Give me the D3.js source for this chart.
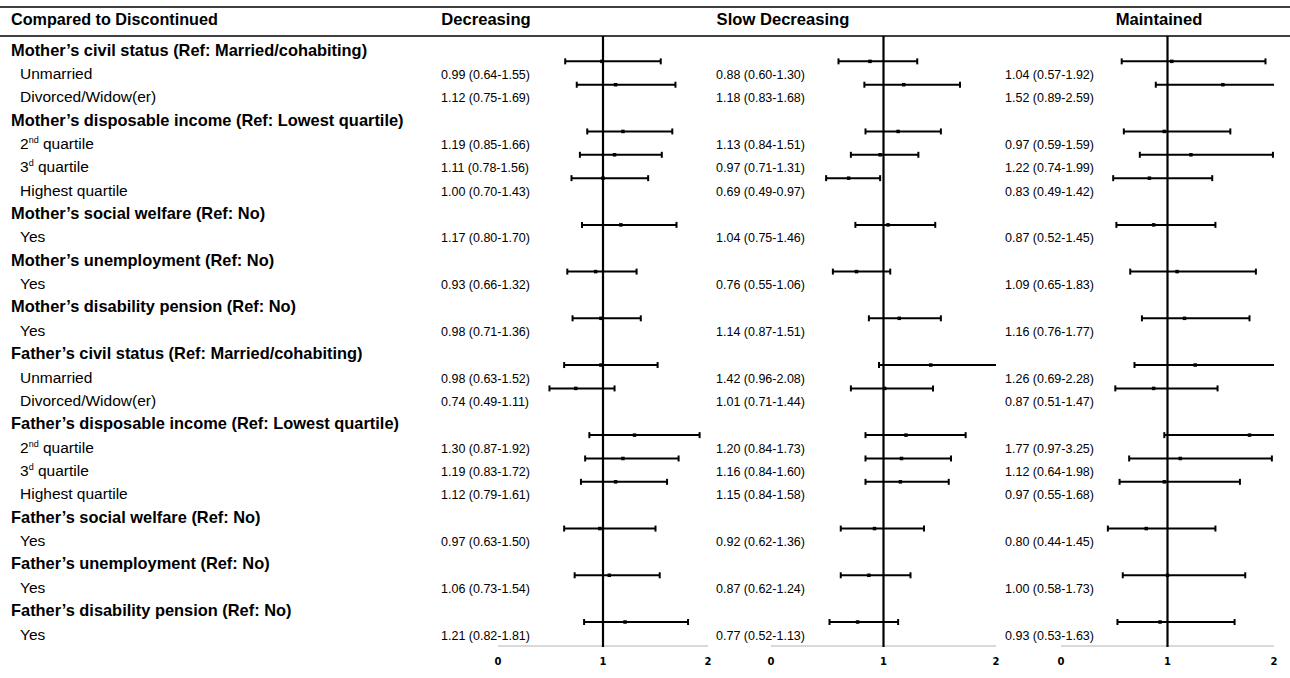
<!DOCTYPE html>
<html>
<head>
<meta charset="utf-8">
<script src="https://cdn.jsdelivr.net/npm/d3@7"></script>
<style>
  body { margin: 0; background: #fff; }
  svg { display: block; }
</style>
</head>
<body>
<svg width="1290" height="678"></svg>
<script>
// rows of the table: "h" = group heading, "i" = item that carries an estimate
const rowKinds = ["h","i","i","h","i","i","i","h","i","h","i","h","i",
                  "h","i","i","h","i","i","i","h","i","h","i","h","i"];
const rowLabels = [
  "Mother’s civil status (Ref: Married/cohabiting)", "Unmarried", "Divorced/Widow(er)",
  "Mother’s disposable income (Ref: Lowest quartile)", "2^nd quartile", "3^d quartile", "Highest quartile",
  "Mother’s social welfare (Ref: No)", "Yes",
  "Mother’s unemployment (Ref: No)", "Yes",
  "Mother’s disability pension (Ref: No)", "Yes",
  "Father’s civil status (Ref: Married/cohabiting)", "Unmarried", "Divorced/Widow(er)",
  "Father’s disposable income (Ref: Lowest quartile)", "2^nd quartile", "3^d quartile", "Highest quartile",
  "Father’s social welfare (Ref: No)", "Yes",
  "Father’s unemployment (Ref: No)", "Yes",
  "Father’s disability pension (Ref: No)", "Yes"
];

const panelNames = ["Decreasing", "Slow Decreasing", "Maintained"];

const decEst = [0.99,1.12,1.19,1.11,1.00,1.17,0.93,0.98,0.98,0.74,1.30,1.19,1.12,0.97,1.06,1.21];
const decLo  = [0.64,0.75,0.85,0.78,0.70,0.80,0.66,0.71,0.63,0.49,0.87,0.83,0.79,0.63,0.73,0.82];
const decHi  = [1.55,1.69,1.66,1.56,1.43,1.70,1.32,1.36,1.52,1.11,1.92,1.72,1.61,1.50,1.54,1.81];

const slowEst = [0.88,1.18,1.13,0.97,0.69,1.04,0.76,1.14,1.42,1.01,1.20,1.16,1.15,0.92,0.87,0.77];
const slowLo  = [0.60,0.83,0.84,0.71,0.49,0.75,0.55,0.87,0.96,0.71,0.84,0.84,0.84,0.62,0.62,0.52];
const slowHi  = [1.30,1.68,1.51,1.31,0.97,1.46,1.06,1.51,2.08,1.44,1.73,1.60,1.58,1.36,1.24,1.13];

const mainEst = [1.04,1.52,0.97,1.22,0.83,0.87,1.09,1.16,1.26,0.87,1.77,1.12,0.97,0.80,1.00,0.93];
const mainLo  = [0.57,0.89,0.59,0.74,0.49,0.52,0.65,0.76,0.69,0.51,0.97,0.64,0.55,0.44,0.58,0.53];
const mainHi  = [1.92,2.59,1.59,1.99,1.42,1.45,1.83,1.77,2.28,1.47,3.25,1.98,1.68,1.45,1.73,1.63];

const axisTicks = [0, 1, 2];

const svg = d3.select("svg");
const W = 1290;

const labelFont = "'Liberation Sans', Arial, Helvetica, sans-serif";
const valueFont = "'Liberation Sans Narrow', 'Arial Narrow', 'Liberation Sans', Arial, sans-serif";

// vertical position of every table row (label centre)
const y = d3.scalePoint()
    .domain(d3.range(rowLabels.length))
    .range([50, 634]);

// one x scale per panel, each spanning 0..2
const panelRanges = [[498, 708], [771, 996], [1061, 1274]];
const panelTextX = [441, 716, 1005];
const panelTitleX = [486, 783, 1159];
const series = [
  {est: decEst, lo: decLo, hi: decHi},
  {est: slowEst, lo: slowLo, hi: slowHi},
  {est: mainEst, lo: mainLo, hi: mainHi}
];

// header rules
svg.append("line").attr("x1", 0).attr("x2", W).attr("y1", 7).attr("y2", 7)
    .attr("stroke", "#000").attr("stroke-width", 1.5);
svg.append("line").attr("x1", 0).attr("x2", W).attr("y1", 36).attr("y2", 36)
    .attr("stroke", "#000").attr("stroke-width", 1.5);

svg.append("text")
    .attr("x", 11).attr("y", 25)
    .attr("font-family", labelFont).attr("font-size", "16.2px").attr("font-weight", "bold")
    .text("Compared to Discontinued");

// row labels
const itemRows = [];
rowLabels.forEach((lab, i) => {
    const kind = rowKinds[i];
    if (kind === "i") itemRows.push(i);
    const t = svg.append("text")
        .attr("x", kind === "h" ? 11 : 20)
        .attr("y", y(i) + 5.5)
        .attr("font-family", labelFont)
        .attr("font-size", kind === "h" ? "16.4px" : "15.5px")
        .attr("font-weight", kind === "h" ? "bold" : "normal");
    if (lab.includes("^")) {
        const m = lab.match(/^(.*?)\^(\S+)(.*)$/);
        t.append("tspan").text(m[1]);
        t.append("tspan").attr("font-size", "9px").attr("dy", -6).text(m[2]);
        t.append("tspan").attr("dy", 6).text(m[3]);
    } else {
        t.text(lab);
    }
});

const fmt = d3.format(".2f");

series.forEach((s, p) => {
    const x = d3.scaleLinear().domain([0, 2]).range(panelRanges[p]).clamp(true);
    const g = svg.append("g");

    g.append("text")
        .attr("x", panelTitleX[p]).attr("y", 25)
        .attr("text-anchor", "middle")
        .attr("font-family", labelFont).attr("font-size", "16.6px").attr("font-weight", "bold")
        .text(panelNames[p]);

    // light axis baseline
    g.append("line")
        .attr("x1", x(0)).attr("x2", x(2)).attr("y1", 646).attr("y2", 646)
        .attr("stroke", "#d9d9d9").attr("stroke-width", 2);

    // tick labels
    g.selectAll("text.tick").data(axisTicks).enter().append("text")
        .attr("class", "tick")
        .attr("x", d => x(d)).attr("y", 665)
        .attr("text-anchor", "middle")
        .attr("font-family", "'DejaVu Sans', sans-serif").attr("font-size", "10px").attr("font-weight", 900)
        .text(d => d);

    // reference line at 1
    g.append("line")
        .attr("x1", x(1)).attr("x2", x(1)).attr("y1", 36).attr("y2", 647)
        .attr("stroke", "#000").attr("stroke-width", 2.2);

    const rows = s.est.map((e, k) => ({est: e, lo: s.lo[k], hi: s.hi[k], row: itemRows[k]}));

    // value text
    g.selectAll("text.val").data(rows).enter().append("text")
        .attr("class", "val")
        .attr("x", panelTextX[p]).attr("y", d => y(d.row) + 5.5)
        .attr("font-family", valueFont).attr("font-size", "12.5px")
        .text(d => `${fmt(d.est)} (${fmt(d.lo)}-${fmt(d.hi)})`);

    const bars = g.selectAll("g.bar").data(rows).enter().append("g")
        .attr("class", "bar")
        .attr("transform", d => `translate(0,${y(d.row) - 12})`);

    bars.append("line")
        .attr("x1", d => x(d.lo)).attr("x2", d => x(d.hi))
        .attr("stroke", "#000").attr("stroke-width", 2);
    bars.append("line")
        .attr("x1", d => x(d.lo)).attr("x2", d => x(d.lo))
        .attr("y1", -3).attr("y2", 3)
        .attr("stroke", "#000").attr("stroke-width", 2);
    bars.filter(d => d.hi <= 2).append("line")
        .attr("x1", d => x(d.hi)).attr("x2", d => x(d.hi))
        .attr("y1", -3).attr("y2", 3)
        .attr("stroke", "#000").attr("stroke-width", 2);
    bars.append("rect")
        .attr("x", d => x(d.est) - 1.75).attr("y", -1.75)
        .attr("width", 3.5).attr("height", 3.5)
        .attr("fill", "#000");
});
</script>
</body>
</html>
